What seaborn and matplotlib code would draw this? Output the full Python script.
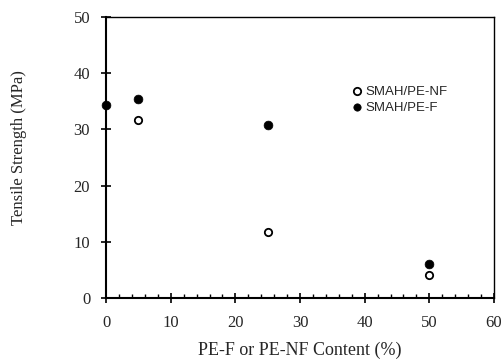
import matplotlib
matplotlib.use("Agg")
import matplotlib.pyplot as plt
from matplotlib.ticker import MultipleLocator
import seaborn as sns
import pandas as pd

sns.set_style("ticks")
plt.rcParams["font.family"] = ["Liberation Serif", "DejaVu Serif"]

# Tensile strength vs. filler content
nf_content = [5, 25, 50]
nf_strength = [31.7, 11.8, 4.1]
f_content = [0, 5, 25, 50]
f_strength = [34.3, 35.4, 30.8, 6.0]

nf = pd.DataFrame({"content": nf_content, "strength": nf_strength})
f = pd.DataFrame({"content": f_content, "strength": f_strength})

fig = plt.figure(figsize=(5.03, 3.6), dpi=100)
ax = fig.add_axes([0.211, 0.172, 0.771, 0.781])

sns.scatterplot(data=nf, x="content", y="strength", ax=ax, marker="o",
                s=28, facecolor="white", edgecolor="black", linewidth=1.3,
                label="SMAH/PE-NF", clip_on=False, zorder=3)
sns.scatterplot(data=f, x="content", y="strength", ax=ax, marker="o",
                s=40, color="black", edgecolor="black", linewidth=0.5,
                label="SMAH/PE-F", clip_on=False, zorder=3)

ax.set_xlim(0, 60)
ax.set_ylim(0, 50)
ax.xaxis.set_major_locator(MultipleLocator(10))
ax.xaxis.set_minor_locator(MultipleLocator(2))
ax.yaxis.set_major_locator(MultipleLocator(10))

ax.tick_params(axis="both", which="major", direction="inout", length=7,
               width=1.2, color="black", labelsize=12)
ax.tick_params(axis="y", which="major", pad=8)
ax.tick_params(axis="x", which="major", pad=9)
ax.tick_params(axis="x", which="minor", direction="in", length=3,
               width=1.0, color="black")

for side in ["left", "bottom"]:
    ax.spines[side].set_linewidth(1.5)
    ax.spines[side].set_color("black")
for side in ["top", "right"]:
    ax.spines[side].set_visible(True)
    ax.spines[side].set_linewidth(1.0)
    ax.spines[side].set_color("black")

ax.set_xlabel("PE-F or PE-NF Content (%)", fontsize=13)
ax.set_ylabel("Tensile Strength (MPa)", fontsize=12)
ax.xaxis.set_label_coords(0.5, -0.155)
ax.yaxis.set_label_coords(-0.205, 0.537)

leg = ax.legend(loc="upper left", bbox_to_anchor=(0.615, 0.775), frameon=False,
                handlelength=1.0, handletextpad=0.15, borderaxespad=0,
                labelspacing=0.3,
                prop={"family": "Liberation Sans", "size": 9.5})
for h in leg.legend_handles:
    h.set_sizes([28])

fig.savefig("out.png", dpi=100)
